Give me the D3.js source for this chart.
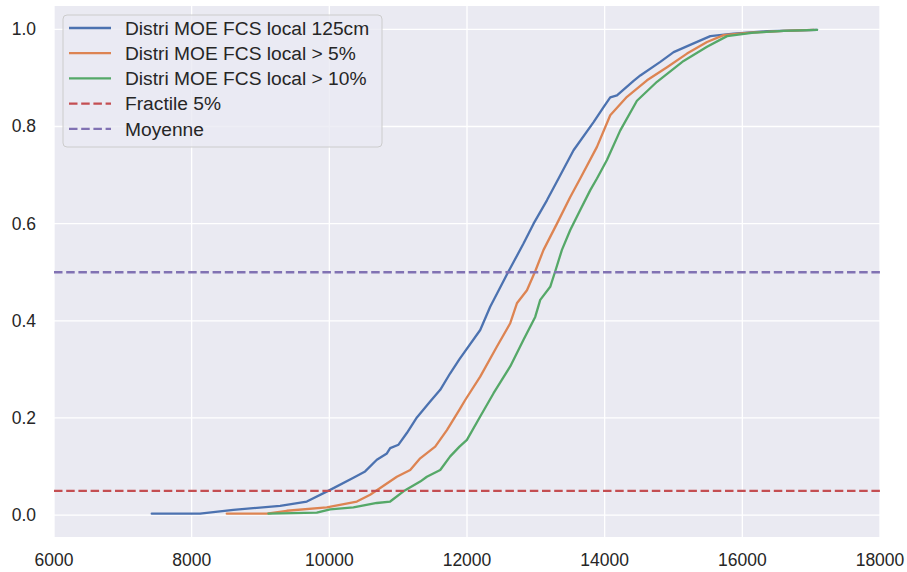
<!DOCTYPE html>
<html>
<head>
<meta charset="utf-8">
<script src="https://cdn.jsdelivr.net/npm/d3@7"></script>
<style>
  body { margin: 0; background: #fff; }
  text { font-family: "Liberation Sans", Arial, sans-serif; fill: #262626; }
</style>
</head>
<body>
<div id="chart"></div>
<script>
// ECDF of each series
const blueX = [7420, 8122, 8606, 9285, 9673, 10012, 10350, 10520, 10690, 10836, 10884, 11005, 11126, 11272, 11465, 11611, 11756, 11891, 12192, 12337, 12604, 12821, 12967, 13161, 13330, 13548, 13839, 13984, 14081, 14179, 14420, 14518, 14808, 15002, 15292, 15535, 15874, 16359, 17086];
const blueY = [0.003, 0.003, 0.011, 0.019, 0.028, 0.052, 0.077, 0.090, 0.114, 0.127, 0.138, 0.145, 0.169, 0.201, 0.234, 0.258, 0.292, 0.321, 0.381, 0.429, 0.502, 0.559, 0.600, 0.648, 0.693, 0.751, 0.809, 0.840, 0.860, 0.864, 0.894, 0.905, 0.933, 0.953, 0.971, 0.986, 0.991, 0.996, 0.999];

const orangeX = [8510, 9092, 9382, 9963, 10400, 10593, 10739, 10981, 11175, 11320, 11538, 11708, 11891, 11974, 12192, 12435, 12628, 12725, 12871, 12991, 13112, 13307, 13500, 13645, 13888, 14081, 14324, 14615, 14906, 15196, 15487, 15729, 16116, 16600, 17036];
const orangeY = [0.003, 0.003, 0.009, 0.016, 0.028, 0.042, 0.056, 0.079, 0.093, 0.117, 0.141, 0.175, 0.217, 0.237, 0.285, 0.347, 0.395, 0.436, 0.463, 0.502, 0.546, 0.600, 0.655, 0.693, 0.758, 0.823, 0.861, 0.895, 0.922, 0.950, 0.974, 0.988, 0.993, 0.997, 0.999];

const greenX = [9115, 9818, 10012, 10350, 10690, 10884, 11077, 11320, 11417, 11611, 11756, 11891, 11999, 12192, 12386, 12628, 12821, 12991, 13064, 13209, 13282, 13379, 13500, 13645, 13791, 13888, 14033, 14227, 14469, 14760, 15147, 15487, 15778, 16165, 16600, 17086];
const greenY = [0.003, 0.005, 0.012, 0.016, 0.025, 0.028, 0.049, 0.069, 0.079, 0.093, 0.121, 0.141, 0.155, 0.203, 0.251, 0.306, 0.361, 0.408, 0.443, 0.470, 0.502, 0.546, 0.587, 0.628, 0.669, 0.693, 0.731, 0.792, 0.853, 0.892, 0.935, 0.964, 0.986, 0.993, 0.997, 0.999];

const fractile = 0.05;
const moyenne = 0.5;

const legendLabels = ["Distri MOE FCS local 125cm", "Distri MOE FCS local > 5%", "Distri MOE FCS local > 10%", "Fractile 5%", "Moyenne"];
const xTicks = [6000, 8000, 10000, 12000, 14000, 16000, 18000];
const yTicks = [0.0, 0.2, 0.4, 0.6, 0.8, 1.0];

const width = 907, height = 572;
const margin = { left: 54, right: 27, top: 6, bottom: 35 };

const svg = d3.select("#chart").append("svg")
    .attr("width", width)
    .attr("height", height);

const x = d3.scaleLinear().domain([6000, 18000]).range([margin.left, width - margin.right]);
const y = d3.scaleLinear().domain([-0.045, 1.048]).range([height - margin.bottom, margin.top]);

// plot background
svg.append("rect")
    .attr("x", margin.left)
    .attr("y", margin.top)
    .attr("width", x.range()[1] - x.range()[0])
    .attr("height", y.range()[0] - y.range()[1])
    .attr("fill", "#eaeaf2");

// grid
svg.selectAll(".xgrid")
    .data(xTicks)
    .join("line")
    .attr("x1", d => x(d)).attr("x2", d => x(d))
    .attr("y1", y.range()[1]).attr("y2", y.range()[0])
    .attr("stroke", "#fff").attr("stroke-width", 1.3);

svg.selectAll(".ygrid")
    .data(yTicks)
    .join("line")
    .attr("x1", x.range()[0]).attr("x2", x.range()[1])
    .attr("y1", d => y(d)).attr("y2", d => y(d))
    .attr("stroke", "#fff").attr("stroke-width", 1.3);

// tick labels
svg.selectAll(".xlab")
    .data(xTicks)
    .join("text")
    .attr("x", d => x(d))
    .attr("y", 566)
    .attr("text-anchor", "middle")
    .attr("font-size", "17.5px")
    .text(d => d);

svg.selectAll(".ylab")
    .data(yTicks)
    .join("text")
    .attr("x", 36)
    .attr("y", d => y(d) + 6)
    .attr("text-anchor", "end")
    .attr("font-size", "17.5px")
    .text(d => d.toFixed(1));

const colors = ["#4c72b0", "#dd8452", "#55a868", "#c44e52", "#8172b3"];
const series = [
    { xs: blueX, ys: blueY, color: colors[0] },
    { xs: orangeX, ys: orangeY, color: colors[1] },
    { xs: greenX, ys: greenY, color: colors[2] }
];

const line = d3.line()
    .x(d => x(d[0]))
    .y(d => y(d[1]));

svg.selectAll(".ecdf")
    .data(series)
    .join("path")
    .attr("d", s => line(s.xs.map((v, i) => [v, s.ys[i]])))
    .attr("fill", "none")
    .attr("stroke", s => s.color)
    .attr("stroke-width", 2.3)
    .attr("stroke-linejoin", "round")
    .attr("stroke-linecap", "round");

// horizontal reference lines
svg.selectAll(".hline")
    .data([{ v: fractile, color: colors[3] }, { v: moyenne, color: colors[4] }])
    .join("line")
    .attr("x1", x.range()[0]).attr("x2", x.range()[1])
    .attr("y1", d => y(d.v)).attr("y2", d => y(d.v))
    .attr("stroke", d => d.color)
    .attr("stroke-width", 2.3)
    .attr("stroke-dasharray", "8.5,3.7");

// legend
const lg = svg.append("g").attr("transform", "translate(63,15)");
lg.append("rect")
    .attr("width", 319).attr("height", 132)
    .attr("rx", 4)
    .attr("fill", "#eaeaf2").attr("fill-opacity", 0.8)
    .attr("stroke", "#cccccc").attr("stroke-width", 1);

const rows = lg.selectAll(".row")
    .data(legendLabels)
    .join("g")
    .attr("transform", (d, i) => `translate(0,${13 + i * 25.2})`);

rows.append("line")
    .attr("x1", 6).attr("x2", 48)
    .attr("stroke", (d, i) => colors[i])
    .attr("stroke-width", 2.3)
    .attr("stroke-dasharray", (d, i) => i >= 3 ? "8.5,3.7" : null);

rows.append("text")
    .attr("x", 62)
    .attr("y", 6.8)
    .attr("font-size", "19.2px")
    .text(d => d);
</script>
</body>
</html>
